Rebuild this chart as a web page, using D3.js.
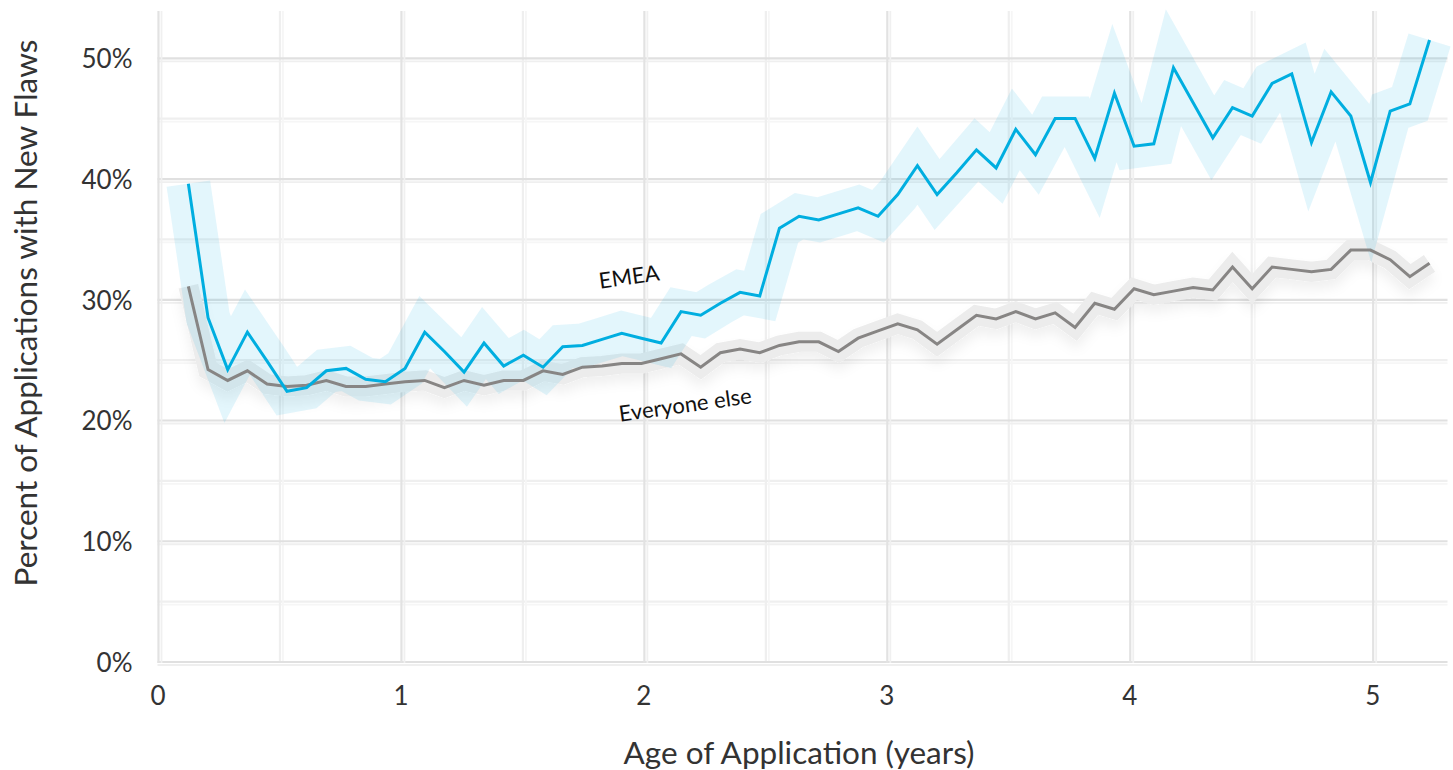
<!DOCTYPE html>
<html lang="en">
<head>
  <meta charset="UTF-8">
  <title>Percent of Applications with New Flaws</title>
  <style>
    body { margin: 0; background: #fff; font-family: Lato, "Open Sans", sans-serif; }
    svg { display: block; }
    .tick text { fill: #333; font-size: 26px; font-family: Lato, sans-serif; }
    .title { fill: #333; font-size: 31.5px; font-family: Lato, sans-serif; }
    .note { fill: #111; font-size: 22px; font-family: Lato, sans-serif; }
  </style>
  <script src="https://d3js.org/d3.v7.min.js"></script>
</head>
<body>
  <svg id="chart" width="1453" height="770"></svg>
  <script>
    // age of application (years), one point per bin
    const ages = [0.127, 0.208, 0.289, 0.370, 0.451, 0.533, 0.614, 0.695, 0.776, 0.857,
      0.938, 1.019, 1.100, 1.181, 1.262, 1.344, 1.425, 1.506, 1.587, 1.668,
      1.749, 1.830, 1.911, 1.992, 2.073, 2.155, 2.236, 2.317, 2.398, 2.479,
      2.560, 2.641, 2.722, 2.803, 2.884, 2.966, 3.047, 3.128, 3.209, 3.290,
      3.371, 3.452, 3.533, 3.614, 3.695, 3.777, 3.858, 3.939, 4.020, 4.101,
      4.182, 4.263, 4.344, 4.425, 4.506, 4.588, 4.669, 4.750, 4.831, 4.912,
      4.993, 5.074, 5.155, 5.236];

    // percent of applications with new flaws
    const emea = [39.7, 28.6, 24.3, 27.4, 25.0, 22.5, 22.8, 24.2, 24.4, 23.5,
      23.3, 24.4, 27.4, 25.8, 24.1, 26.5, 24.6, 25.5, 24.5, 26.2,
      26.3, 26.8, 27.3, 26.9, 26.5, 29.1, 28.8, 29.8, 30.7, 30.4,
      36.0, 37.0, 36.7, 37.2, 37.7, 37.0, 38.8, 41.2, 38.8, 40.6,
      42.5, 41.0, 44.2, 42.1, 45.1, 45.1, 41.8, 47.2, 42.8, 43.0,
      49.3, 46.4, 43.5, 46.0, 45.3, 48.0, 48.8, 43.1, 47.3, 45.3,
      39.8, 45.7, 46.3, 51.6];

    const everyoneElse = [31.2, 24.3, 23.4, 24.2, 23.1, 22.9, 23.0, 23.4, 22.9, 22.9,
      23.1, 23.3, 23.4, 22.8, 23.4, 23.0, 23.4, 23.4, 24.2, 23.9,
      24.5, 24.6, 24.8, 24.8, 25.2, 25.6, 24.5, 25.7, 26.0, 25.7,
      26.3, 26.6, 26.6, 25.8, 26.9, 27.5, 28.1, 27.6, 26.4, 27.6,
      28.8, 28.5, 29.1, 28.5, 29.0, 27.8, 29.8, 29.3, 31.0, 30.5,
      30.8, 31.1, 30.9, 32.8, 31.0, 32.8, 32.6, 32.4, 32.6, 34.2,
      34.2, 33.4, 32.0, 33.1];

    const xTicks = [0, 1, 2, 3, 4, 5];
    const xMinor = [0.5, 1.5, 2.5, 3.5, 4.5];
    const yTicks = [0, 10, 20, 30, 40, 50];
    const yMinor = [5, 15, 25, 35, 45];

    const svg = d3.select('#chart');
    const x = d3.scaleLinear().domain([0, 5.31]).range([157.5, 1447.5]);
    const y = d3.scaleLinear().domain([0, 54]).range([663, 11]);
    const [x0, x1] = x.range();
    const [y0, y1] = y.range();

    const defs = svg.append('defs');
    const shadow = defs.append('filter').attr('id', 'shadow')
      .attr('x', '-5%').attr('y', '-30%').attr('width', '110%').attr('height', '180%');
    shadow.append('feDropShadow')
      .attr('dx', 0).attr('dy', 8).attr('stdDeviation', 6)
      .attr('flood-color', '#000').attr('flood-opacity', 0.06);

    // grid: each line is a darker stroke with a lighter twin next to it
    const grid = svg.append('g');
    function hLines(vals, dark, light) {
      grid.append('g').selectAll('line').data(vals).join('line')
        .attr('x1', x0).attr('x2', x1)
        .attr('y1', d => y(d) - 1).attr('y2', d => y(d) - 1)
        .attr('stroke', dark).attr('stroke-width', 2.2);
      grid.append('g').selectAll('line').data(vals).join('line')
        .attr('x1', x0).attr('x2', x1)
        .attr('y1', d => y(d) + 2).attr('y2', d => y(d) + 2)
        .attr('stroke', light).attr('stroke-width', 1.8);
    }
    function vLines(vals, dark, light) {
      grid.append('g').selectAll('line').data(vals).join('line')
        .attr('y1', y0).attr('y2', y1)
        .attr('x1', d => x(d) + 1).attr('x2', d => x(d) + 1)
        .attr('stroke', dark).attr('stroke-width', 2.2);
      grid.append('g').selectAll('line').data(vals).join('line')
        .attr('y1', y0).attr('y2', y1)
        .attr('x1', d => x(d) + 4).attr('x2', d => x(d) + 4)
        .attr('stroke', light).attr('stroke-width', 1.8);
    }
    hLines(yMinor, '#efefef', '#f6f6f6');
    vLines(xMinor, '#efefef', '#f6f6f6');
    hLines(yTicks, '#e0e0e0', '#efefef');
    vLines(xTicks, '#e2e2e2', '#f0f0f0');

    // axes (labels only)
    svg.append('g')
      .attr('transform', `translate(${x0 - 22},0)`)
      .call(d3.axisLeft(y).tickValues(yTicks).tickSize(0).tickFormat(d => d + '%'))
      .call(g => g.select('.domain').remove());

    svg.append('g')
      .attr('transform', `translate(0,${y0 + 21})`)
      .call(d3.axisBottom(x).tickValues(xTicks).tickSize(0).tickFormat(d3.format('d')))
      .call(g => g.select('.domain').remove());

    svg.append('text').attr('class', 'title')
      .attr('x', 799).attr('y', 752)
      .attr('text-anchor', 'middle').attr('dominant-baseline', 'central')
      .text('Age of Application (years)');

    svg.append('text').attr('class', 'title')
      .attr('transform', 'translate(25,313) rotate(-90)')
      .attr('text-anchor', 'middle').attr('dominant-baseline', 'central')
      .text('Percent of Applications with New Flaws');

    // series
    const rows = ages.map((a, i) => ({ age: a, emea: emea[i], rest: everyoneElse[i] }));
    const lineOf = key => d3.line().x(d => x(d.age)).y(d => y(d[key]));

    svg.append('path').datum(rows)
      .attr('d', lineOf('rest'))
      .attr('fill', 'none').attr('stroke', '#ececec')
      .attr('stroke-width', 20).attr('stroke-linejoin', 'miter')
      .attr('filter', 'url(#shadow)');

    svg.append('path').datum(rows)
      .attr('d', lineOf('emea'))
      .attr('fill', 'none').attr('stroke', '#00aee0').attr('stroke-opacity', 0.11)
      .attr('stroke-width', 44).attr('stroke-linejoin', 'miter');

    svg.append('path').datum(rows)
      .attr('d', lineOf('rest'))
      .attr('fill', 'none').attr('stroke', '#878584').attr('stroke-width', 3);

    svg.append('path').datum(rows)
      .attr('d', lineOf('emea'))
      .attr('fill', 'none').attr('stroke', '#00aee0').attr('stroke-width', 3);

    // series labels
    svg.append('text').attr('class', 'note')
      .attr('transform', 'translate(629,276) rotate(-8)')
      .attr('text-anchor', 'middle').attr('dominant-baseline', 'central')
      .text('EMEA');

    svg.append('text').attr('class', 'note')
      .attr('transform', 'translate(685,404) rotate(-8)')
      .attr('text-anchor', 'middle').attr('dominant-baseline', 'central')
      .text('Everyone else');
  </script>
</body>
</html>
